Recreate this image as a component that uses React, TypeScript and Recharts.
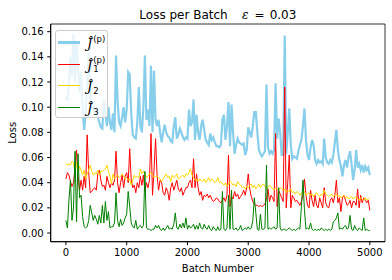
import React from 'react';
import { LineChart, Line, XAxis, YAxis, Legend, ReferenceArea } from 'recharts';

// one value logged every 25 batches, 0..5000
const BATCH_STEP = 25;

const jHatP = [
  0.108, 0.105, 0.118, 0.140, 0.125, 0.158, 0.120, 0.152, 0.130, 0.112,
  0.128, 0.100, 0.082, 0.095, 0.120, 0.143, 0.110, 0.098, 0.102, 0.095,
  0.100, 0.092, 0.088, 0.084, 0.083, 0.106, 0.095, 0.085, 0.100, 0.088,
  0.082, 0.095, 0.080, 0.141, 0.105, 0.088, 0.085, 0.092, 0.100, 0.088,
  0.098, 0.128, 0.126, 0.095, 0.078, 0.076, 0.075, 0.088, 0.116, 0.085,
  0.080, 0.100, 0.141, 0.090, 0.098, 0.085, 0.133, 0.080, 0.129, 0.090,
  0.085, 0.090, 0.080, 0.072, 0.080, 0.086, 0.080, 0.077, 0.076, 0.073,
  0.072, 0.085, 0.092, 0.075, 0.078, 0.083, 0.080, 0.076, 0.074, 0.076,
  0.075, 0.098, 0.085, 0.088, 0.106, 0.074, 0.094, 0.080, 0.074, 0.085,
  0.090, 0.082, 0.074, 0.072, 0.070, 0.079, 0.074, 0.076, 0.072, 0.069,
  0.069, 0.068, 0.070, 0.090, 0.094, 0.074, 0.085, 0.104, 0.069, 0.102,
  0.080, 0.063, 0.070, 0.075, 0.072, 0.071, 0.070, 0.071, 0.062, 0.066,
  0.084, 0.080, 0.076, 0.085, 0.096, 0.096, 0.080, 0.066, 0.063, 0.061,
  0.063, 0.065, 0.118, 0.068, 0.063, 0.065, 0.063, 0.066, 0.119, 0.075,
  0.091, 0.080, 0.062, 0.062, 0.157, 0.063, 0.080, 0.099, 0.070, 0.059,
  0.061, 0.060, 0.059, 0.065, 0.070, 0.074, 0.085, 0.099, 0.074, 0.062,
  0.058, 0.068, 0.074, 0.070, 0.058, 0.055, 0.058, 0.056, 0.057, 0.055,
  0.075, 0.060, 0.056, 0.055, 0.058, 0.056, 0.062, 0.072, 0.082, 0.066,
  0.058, 0.053, 0.045, 0.054, 0.058, 0.052, 0.060, 0.065, 0.055, 0.042,
  0.050, 0.066, 0.052, 0.055, 0.050, 0.054, 0.048, 0.053, 0.050, 0.052,
  0.046,
];

const jHat1P = [
  0.043, 0.048, 0.046, 0.041, 0.037, 0.040, 0.050, 0.066, 0.045, 0.034,
  0.042, 0.034, 0.045, 0.036, 0.078, 0.048, 0.032, 0.033, 0.035, 0.036,
  0.034, 0.047, 0.050, 0.042, 0.037, 0.038, 0.034, 0.045, 0.040, 0.036,
  0.040, 0.038, 0.042, 0.065, 0.040, 0.032, 0.040, 0.046, 0.036, 0.045,
  0.048, 0.040, 0.067, 0.042, 0.036, 0.038, 0.032, 0.040, 0.036, 0.045,
  0.038, 0.046, 0.033, 0.040, 0.036, 0.042, 0.079, 0.030, 0.050, 0.075,
  0.046, 0.034, 0.042, 0.040, 0.032, 0.030, 0.036, 0.033, 0.026, 0.036,
  0.040, 0.034, 0.038, 0.042, 0.035, 0.033, 0.036, 0.030, 0.033, 0.036,
  0.036, 0.040, 0.042, 0.036, 0.059, 0.036, 0.047, 0.036, 0.030, 0.033,
  0.026, 0.030, 0.029, 0.031, 0.028, 0.030, 0.027, 0.025, 0.026, 0.028,
  0.027, 0.025, 0.024, 0.026, 0.028, 0.025, 0.030, 0.062, 0.021, 0.029,
  0.027, 0.033, 0.029, 0.031, 0.027, 0.029, 0.031, 0.034, 0.030, 0.036,
  0.047, 0.035, 0.029, 0.025, 0.023, 0.022, 0.022, 0.021, 0.022, 0.021,
  0.022, 0.023, 0.027, 0.035, 0.025, 0.030, 0.028, 0.025, 0.079, 0.021,
  0.034, 0.031, 0.028, 0.025, 0.116, 0.020, 0.040, 0.062, 0.020, 0.030,
  0.028, 0.025, 0.026, 0.024, 0.022, 0.025, 0.030, 0.043, 0.030, 0.022,
  0.020, 0.034, 0.026, 0.021, 0.030, 0.022, 0.020, 0.028, 0.024, 0.020,
  0.036, 0.024, 0.021, 0.020, 0.026, 0.028, 0.024, 0.030, 0.042, 0.024,
  0.028, 0.017, 0.028, 0.030, 0.026, 0.022, 0.023, 0.026, 0.020, 0.025,
  0.025, 0.022, 0.035, 0.020, 0.030, 0.024, 0.028, 0.026, 0.024, 0.026,
  0.018,
];

const jHat2 = [
  0.055, 0.054, 0.055, 0.054, 0.057, 0.056, 0.047, 0.056, 0.048, 0.053,
  0.050, 0.046, 0.050, 0.043, 0.047, 0.050, 0.054, 0.049, 0.046, 0.048,
  0.047, 0.050, 0.046, 0.049, 0.049, 0.050, 0.051, 0.054, 0.049, 0.045,
  0.039, 0.047, 0.043, 0.045, 0.046, 0.044, 0.045, 0.047, 0.045, 0.043,
  0.044, 0.042, 0.043, 0.038, 0.042, 0.046, 0.044, 0.045, 0.044, 0.051,
  0.047, 0.049, 0.047, 0.044, 0.045, 0.047, 0.048, 0.046, 0.044, 0.045,
  0.045, 0.044, 0.043, 0.041, 0.043, 0.045, 0.047, 0.044, 0.045, 0.041,
  0.046, 0.044, 0.045, 0.047, 0.043, 0.044, 0.045, 0.046, 0.044, 0.047,
  0.046, 0.048, 0.051, 0.046, 0.044, 0.042, 0.043, 0.041, 0.043, 0.042,
  0.041, 0.043, 0.040, 0.042, 0.044, 0.041, 0.043, 0.042, 0.040, 0.041,
  0.044, 0.040, 0.041, 0.039, 0.038, 0.040, 0.037, 0.039, 0.041, 0.040,
  0.038, 0.039, 0.037, 0.041, 0.039, 0.038, 0.036, 0.037, 0.035, 0.037,
  0.036, 0.038, 0.039, 0.036, 0.038, 0.035, 0.037, 0.039, 0.036, 0.038,
  0.039, 0.037, 0.035, 0.036, 0.038, 0.037, 0.035, 0.034, 0.036, 0.035,
  0.034, 0.036, 0.035, 0.034, 0.035, 0.032, 0.034, 0.033, 0.035, 0.032,
  0.033, 0.031, 0.033, 0.032, 0.030, 0.032, 0.031, 0.033, 0.030, 0.031,
  0.032, 0.030, 0.031, 0.029, 0.031, 0.032, 0.030, 0.029, 0.031, 0.030,
  0.034, 0.031, 0.030, 0.029, 0.030, 0.031, 0.029, 0.030, 0.031, 0.029,
  0.030, 0.028, 0.029, 0.030, 0.028, 0.029, 0.027, 0.028, 0.029, 0.027,
  0.028, 0.029, 0.027, 0.026, 0.028, 0.027, 0.026, 0.028, 0.026, 0.027,
  0.028,
];

const jHat3 = [
  0.010, 0.004, 0.026, 0.042, 0.010, 0.020, 0.065, 0.009, 0.063, 0.028,
  0.030, 0.013, 0.005, 0.004, 0.005, 0.010, 0.022, 0.016, 0.010, 0.014,
  0.011, 0.007, 0.014, 0.008, 0.022, 0.008, 0.025, 0.010, 0.017, 0.004,
  0.005, 0.005, 0.008, 0.032, 0.010, 0.005, 0.011, 0.006, 0.008, 0.012,
  0.015, 0.033, 0.021, 0.008, 0.005, 0.004, 0.010, 0.003, 0.005, 0.006,
  0.004, 0.006, 0.049, 0.004, 0.003, 0.003, 0.002, 0.003, 0.003, 0.006,
  0.004, 0.006, 0.003, 0.002, 0.004, 0.002, 0.004, 0.006, 0.003, 0.004,
  0.003, 0.007, 0.016, 0.004, 0.003, 0.007, 0.004, 0.008, 0.004, 0.012,
  0.003, 0.006, 0.004, 0.005, 0.007, 0.003, 0.006, 0.003, 0.008, 0.004,
  0.003, 0.007, 0.004, 0.003, 0.006, 0.003, 0.002, 0.005, 0.003, 0.002,
  0.005, 0.002, 0.003, 0.033, 0.003, 0.002, 0.004, 0.030, 0.003, 0.034,
  0.003, 0.003, 0.004, 0.002, 0.003, 0.006, 0.002, 0.003, 0.004, 0.003,
  0.005, 0.003, 0.004, 0.010, 0.028, 0.016, 0.003, 0.002, 0.015, 0.003,
  0.003, 0.004, 0.054, 0.003, 0.004, 0.003, 0.004, 0.005, 0.003, 0.004,
  0.036, 0.004, 0.002, 0.003, 0.003, 0.002, 0.003, 0.004, 0.003, 0.002,
  0.003, 0.002, 0.003, 0.004, 0.003, 0.021, 0.042, 0.018, 0.003, 0.004,
  0.003, 0.008, 0.003, 0.002, 0.003, 0.002, 0.003, 0.002, 0.004, 0.003,
  0.002, 0.003, 0.002, 0.003, 0.002, 0.003, 0.009, 0.010, 0.012, 0.016,
  0.003, 0.004, 0.003, 0.005, 0.006, 0.003, 0.004, 0.014, 0.003, 0.002,
  0.006, 0.003, 0.002, 0.004, 0.003, 0.002, 0.012, 0.002, 0.003, 0.002,
  0.002,
];

const xTicks = [0, 1000, 2000, 3000, 4000, 5000];
const yTicks = [0, 0.02, 0.04, 0.06, 0.08, 0.1, 0.12, 0.14, 0.16];

const X_DOMAIN: [number, number] = [-250, 5250];
const Y_DOMAIN: [number, number] = [-0.0069, 0.1661];

const data = jHatP.map((v, i) => ({
  batch: i * BATCH_STEP,
  jp: v,
  j1p: jHat1P[i],
  j2: jHat2[i],
  j3: jHat3[i],
}));

const HatJ = ({ sub, sup }: { sub?: string; sup?: string }) => (
  <span style={{ display: 'inline-flex', alignItems: 'center' }}>
    <span style={{ fontFamily: '"DejaVu Serif", serif', fontStyle: 'italic', fontSize: 13 }}>Ĵ</span>
    <span
      style={{
        display: 'inline-flex',
        flexDirection: 'column',
        fontSize: 8.5,
        lineHeight: '9px',
        marginLeft: 1,
      }}
    >
      <span>{sup ?? '\u00a0'}</span>
      <span>{sub ?? '\u00a0'}</span>
    </span>
  </span>
);

const SERIES = [
  { key: 'jp', color: '#87ceeb', width: 2.2, label: <HatJ sup="(p)" /> },
  { key: 'j1p', color: '#ff0000', width: 1, label: <HatJ sub="1" sup="(p)" /> },
  { key: 'j2', color: '#ffd700', width: 1, label: <HatJ sub="2" /> },
  { key: 'j3', color: '#008000', width: 1, label: <HatJ sub="3" /> },
];

const LegendBox = () => (
  <div
    style={{
      width: 53,
      height: 88,
      boxSizing: 'border-box',
      border: '1px solid #cccccc',
      borderRadius: 3,
      background: 'rgba(255,255,255,0.8)',
      paddingTop: 1,
      color: '#000',
    }}
  >
    {SERIES.map((s) => (
      <div key={s.key} style={{ height: 21.5, display: 'flex', alignItems: 'center' }}>
        <div style={{ width: 22, height: s.width === 1 ? 1.2 : 2.6, background: s.color, marginLeft: 2 }} />
        <div style={{ marginLeft: 7 }}>{s.label}</div>
      </div>
    ))}
  </div>
);

const tickStyle = { fill: '#000', fontSize: 10 };

export default function App() {
  return (
    <div
      style={{
        position: 'absolute',
        left: 0,
        top: 0,
        width: 392,
        height: 280,
        background: '#fff',
        fontFamily: '"DejaVu Sans", sans-serif',
      }}
    >
      <div
        style={{
          position: 'absolute',
          left: 50.7,
          width: 334.3,
          top: 8,
          textAlign: 'center',
          fontSize: 12,
          lineHeight: '14px',
          color: '#000',
          whiteSpace: 'pre',
        }}
      >
        Loss per Batch<span style={{ display: 'inline-block', width: 14.4 }} />
        <span style={{ fontStyle: 'italic', fontFamily: '"DejaVu Serif", serif' }}>ε</span>
        <span style={{ display: 'inline-block', width: 6 }} />=
        <span style={{ display: 'inline-block', width: 5 }} />0.03
      </div>
      <LineChart
        width={392}
        height={280}
        data={data}
        margin={{ top: 24, right: 7, bottom: 0, left: 0 }}
      >
        <XAxis
          type="number"
          dataKey="batch"
          domain={X_DOMAIN}
          ticks={xTicks}
          allowDataOverflow
          height={38.3}
          tick={tickStyle}
          tickSize={3.5}
          tickMargin={3.5}
          tickLine={{ stroke: '#000' }}
          axisLine={{ stroke: '#000' }}
          label={{ value: 'Batch Number', position: 'insideBottom', offset: 8, style: { fill: '#000', fontSize: 10 } }}
        />
        <YAxis
          type="number"
          domain={Y_DOMAIN}
          ticks={yTicks}
          allowDataOverflow
          width={50.7}
          tick={tickStyle}
          tickSize={3.5}
          tickMargin={3.5}
          tickLine={{ stroke: '#000' }}
          axisLine={{ stroke: '#000' }}
          tickFormatter={(v: number) => v.toFixed(2)}
          label={{
            value: 'Loss',
            angle: -90,
            position: 'insideLeft',
            offset: 12,
            style: { textAnchor: 'middle', fill: '#000', fontSize: 10 },
          }}
        />
        <ReferenceArea
          x1={X_DOMAIN[0]}
          x2={X_DOMAIN[1]}
          y1={Y_DOMAIN[0]}
          y2={Y_DOMAIN[1]}
          fill="none"
          stroke="#000"
          strokeWidth={0.8}
          ifOverflow="visible"
        />
        {SERIES.map((s) => (
          <Line
            key={s.key}
            type="linear"
            dataKey={s.key}
            stroke={s.color}
            strokeWidth={s.width}
            dot={false}
            activeDot={false}
            isAnimationActive={false}
          />
        ))}
        <Legend
          layout="vertical"
          align="center"
          verticalAlign="middle"
          content={() => <LegendBox />}
          wrapperStyle={{ left: 55, top: 30, width: 53, height: 88 }}
        />
      </LineChart>
    </div>
  );
}
